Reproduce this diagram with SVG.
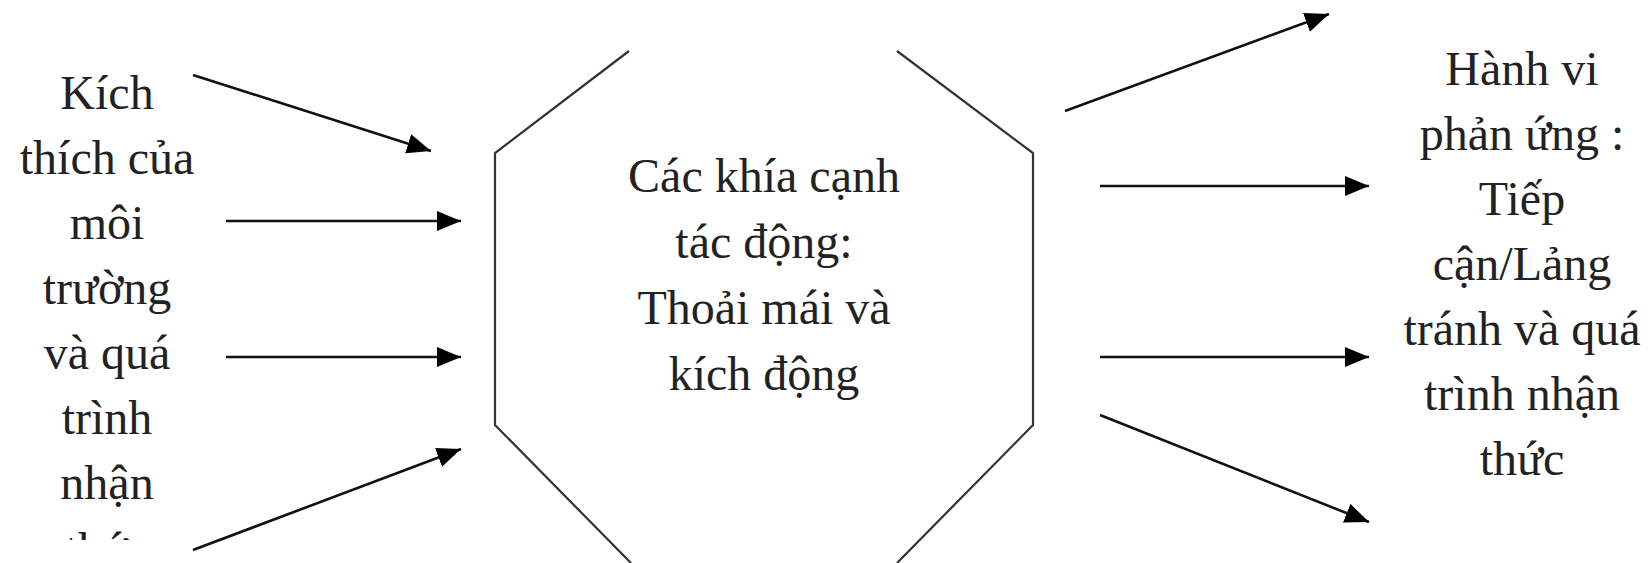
<svg xmlns="http://www.w3.org/2000/svg" width="1652" height="563" viewBox="0 0 1652 563">
<style>
.t{font-family:"Liberation Serif","Times New Roman",serif;font-size:48px;fill:#222;text-anchor:middle}
.c{stroke:#111;stroke-width:2.6;fill:none}
.oct{stroke:#333;stroke-width:2.2;fill:none;stroke-linejoin:miter}
</style>
<defs>
<marker id="ah" markerUnits="userSpaceOnUse" markerWidth="26" markerHeight="22" refX="24" refY="10" orient="auto" viewBox="0 0 26 22">
<path d="M0,0 L24,10 L0,20 z" fill="#000"/>
</marker>
<clipPath id="lclip"><rect x="0" y="0" width="260" height="540"/></clipPath>
</defs>
<rect width="1652" height="563" fill="#fff"/>
<g id="input" clip-path="url(#lclip)">
<text class="t"><tspan x="107" y="109">Kích</tspan><tspan x="107" y="174">thích của</tspan><tspan x="107" y="239">môi</tspan><tspan x="107" y="304">trường</tspan><tspan x="107" y="369">và quá</tspan><tspan x="107" y="434">trình</tspan><tspan x="107" y="499">nhận</tspan><tspan x="107" y="566">thức</tspan></text>
</g>
<g id="affect">
<path class="oct" d="M629,51 L495,153 L495,425 L631,563 M897,51 L1033,153 L1033,425 L897,563"/>
<text class="t"><tspan x="764" y="192">Các khía cạnh</tspan><tspan x="764" y="258">tác động:</tspan><tspan x="764" y="324">Thoải mái và</tspan><tspan x="764" y="390">kích động</tspan></text>
</g>
<g id="response">
<text class="t"><tspan x="1522" y="85">Hành vi</tspan><tspan x="1522" y="150">phản ứng :</tspan><tspan x="1522" y="215">Tiếp</tspan><tspan x="1522" y="280">cận/Lảng</tspan><tspan x="1522" y="345">tránh và quá</tspan><tspan x="1522" y="410">trình nhận</tspan><tspan x="1522" y="475">thức</tspan></text>
</g>
<g id="connectors">
<line class="c" x1="193" y1="75" x2="431" y2="151" marker-end="url(#ah)"/>
<line class="c" x1="226" y1="221" x2="461" y2="221" marker-end="url(#ah)"/>
<line class="c" x1="226" y1="357" x2="461" y2="357" marker-end="url(#ah)"/>
<line class="c" x1="193" y1="550" x2="461" y2="449" marker-end="url(#ah)"/>
<line class="c" x1="1065" y1="111" x2="1329" y2="14" marker-end="url(#ah)"/>
<line class="c" x1="1100" y1="186" x2="1369" y2="186" marker-end="url(#ah)"/>
<line class="c" x1="1100" y1="357" x2="1369" y2="357" marker-end="url(#ah)"/>
<line class="c" x1="1100" y1="415" x2="1369" y2="522" marker-end="url(#ah)"/>
</g>
</svg>
